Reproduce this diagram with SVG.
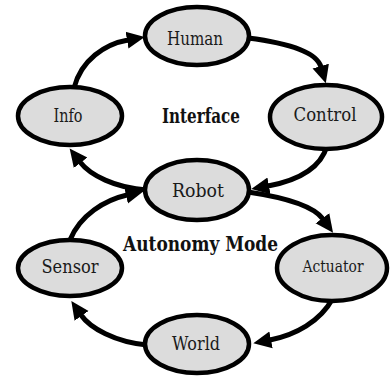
<svg xmlns="http://www.w3.org/2000/svg" width="390" height="376" viewBox="0 0 390 376">
  <style>
    .node ellipse { fill: #dcdcdc; stroke: #000; stroke-width: 4.5; }
    .node text { fill: #1a1a1a; text-anchor: middle; }
    .edge { fill: none; stroke: #000; stroke-width: 5; marker-end: url(#head); }
    .mode { font-weight: bold; fill: #111; text-anchor: middle; }
    text { font-family: "DejaVu Serif", "Liberation Serif", serif; }
  </style>
  <defs>
    <marker id="head" markerUnits="userSpaceOnUse" markerWidth="20" markerHeight="20" viewBox="0 -10 20 20" refX="1" refY="0" orient="auto">
      <path d="M0,-8.5 L18,0 L0,8.5 z" fill="#000"/>
    </marker>
  </defs>
  <rect width="390" height="376" fill="#fff"/>

  <!-- connectors: upper loop (interface) and lower loop (autonomy) -->
  <g id="connectors">
    <path class="edge" d="M74,88 C81,60 105,44 128,40"/>
    <path class="edge" d="M248,38 C280,42 316,50 321,67"/>
    <path class="edge" d="M327,146 C320,170 295,181 268,186"/>
    <path class="edge" d="M147,190 C115,188 90,175 80,162"/>
    <path class="edge" d="M70,240 C80,215 105,200 127,195"/>
    <path class="edge" d="M248,192 C275,196 312,204 323,219"/>
    <path class="edge" d="M333,298 C320,322 295,335 270,340"/>
    <path class="edge" d="M147,345 C115,342 90,328 81,315"/>
  </g>

  <g id="human" class="node">
    <ellipse cx="197" cy="36" rx="52" ry="29"/>
    <text x="195" y="45" font-size="18.5" textLength="56" lengthAdjust="spacingAndGlyphs">Human</text>
  </g>
  <g id="info" class="node">
    <ellipse cx="70" cy="116" rx="52" ry="29"/>
    <text x="68" y="122" font-size="18.5" textLength="29" lengthAdjust="spacingAndGlyphs">Info</text>
  </g>
  <g id="control" class="node">
    <ellipse cx="326" cy="117" rx="56" ry="32"/>
    <text x="325" y="121" font-size="18.5" textLength="63" lengthAdjust="spacingAndGlyphs">Control</text>
  </g>
  <g id="robot" class="node">
    <ellipse cx="197" cy="190" rx="52" ry="30"/>
    <text x="198" y="197" font-size="18.5" textLength="52" lengthAdjust="spacingAndGlyphs">Robot</text>
  </g>
  <g id="sensor" class="node">
    <ellipse cx="70" cy="268" rx="52" ry="28"/>
    <text x="70" y="273" font-size="18.5" textLength="57" lengthAdjust="spacingAndGlyphs">Sensor</text>
  </g>
  <g id="actuator" class="node">
    <ellipse cx="332" cy="268" rx="55" ry="33"/>
    <text x="333" y="272" font-size="16.5" textLength="61" lengthAdjust="spacingAndGlyphs">Actuator</text>
  </g>
  <g id="world" class="node">
    <ellipse cx="197" cy="344" rx="52" ry="29"/>
    <text x="196" y="350" font-size="18.5" textLength="48" lengthAdjust="spacingAndGlyphs">World</text>
  </g>

  <text class="mode" x="201" y="123" font-size="21" textLength="78" lengthAdjust="spacingAndGlyphs">Interface</text>
  <text class="mode" x="200.5" y="251" font-size="20.5" textLength="155" lengthAdjust="spacingAndGlyphs">Autonomy Mode</text>
</svg>
